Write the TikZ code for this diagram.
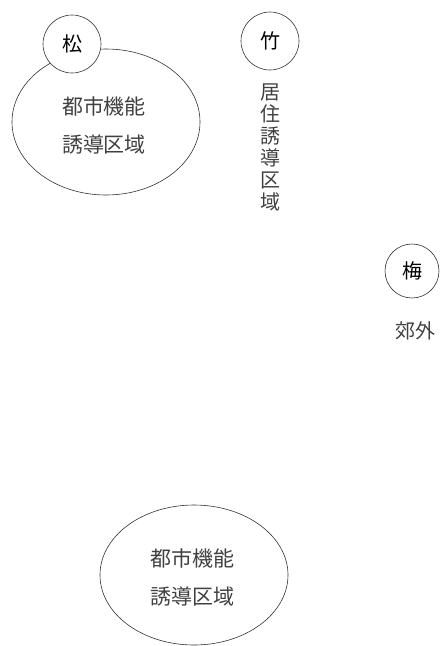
\documentclass[tikz,border=0pt]{standalone}
\usepackage{fontspec}
\newfontfamily\jpfont{Noto Sans CJK JP}
\usetikzlibrary{shapes.geometric}
\begin{document}
\begin{tikzpicture}[x=1pt,y=-1pt,
  badge/.style={draw=black!80,line width=0.6pt,circle,fill=white,minimum size=58pt,inner sep=0pt,font=\jpfont\fontsize{20}{20}\selectfont},
  lbl/.style={text=black!75,font=\jpfont\fontsize{21}{38}\selectfont,align=center,inner sep=0pt}]
\useasboundingbox (0,0) rectangle (440,646);
% top ellipse
\node[draw=black!80,line width=0.6pt,ellipse,minimum width=188pt,minimum height=146pt] (e1) at (106,122) {};
\node[lbl] (t1) at (104,125) {都市機能\\誘導区域};
\node[badge] (matsu) at (72,44) {松};
% bamboo
\node[badge] (take) at (270,41) {竹};
\node[lbl,font=\jpfont\fontsize{20}{22}\selectfont] (t2) at (270,147) {居\\住\\誘\\導\\区\\域};
% ume
\node[badge,minimum size=54pt] (ume) at (412,271) {梅};
\node[lbl,font=\jpfont\fontsize{20}{20}\selectfont] (t3) at (415,331) {郊外};
% bottom ellipse
\node[draw=black!80,line width=0.6pt,ellipse,minimum width=188pt,minimum height=140pt] (e2) at (194,575) {};
\node[lbl] (t4) at (192,577) {都市機能\\誘導区域};
\end{tikzpicture}
\end{document}
